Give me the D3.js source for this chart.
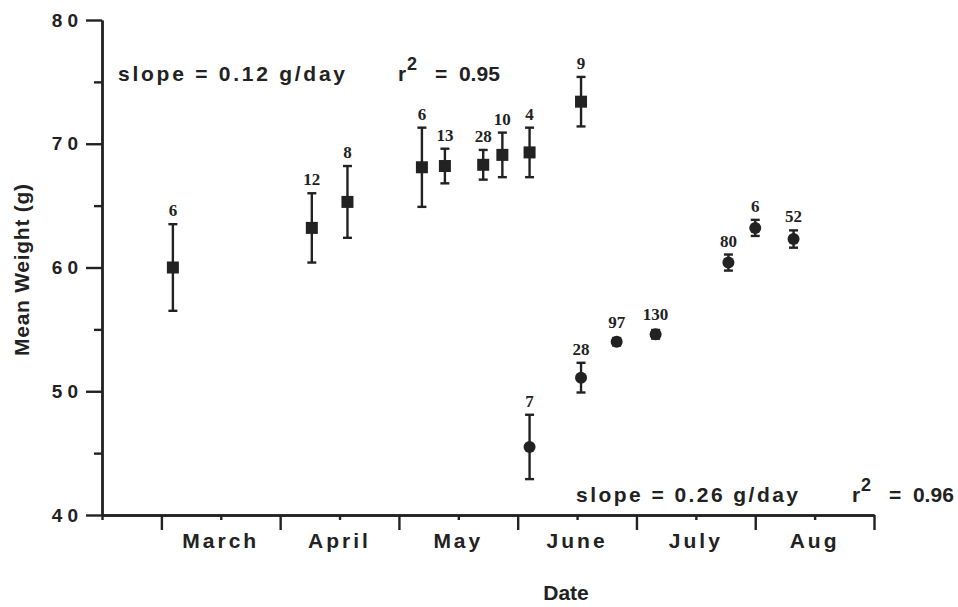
<!DOCTYPE html>
<html>
<head>
<meta charset="utf-8">
<script src="https://cdn.jsdelivr.net/npm/d3@7"></script>
<style>
  body { margin: 0; background: #fff; }
  svg text { font-family: 'Liberation Sans', Arial, sans-serif; fill: #222; }
</style>
</head>
<body>
<div id="graph_div"></div>
<script>
// axis labels
const monthNames = ['March', 'April', 'May', 'June', 'July', 'Aug'];
const yTicks = [40, 50, 60, 70, 80];
const yMinorTicks = [45, 55, 65, 75];

// early season (squares)
const squareDates = ['Mar 4', 'Apr 9', 'Apr 18', 'May 7', 'May 13', 'May 23', 'May 28', 'Jun 4', 'Jun 17'];
const squareMeans = [60.0, 63.2, 65.3, 68.1, 68.2, 68.3, 69.1, 69.3, 73.4];
const squareErr   = [3.5, 2.8, 2.9, 3.2, 1.4, 1.2, 1.8, 2.0, 2.0];
const squareN     = [6, 12, 8, 6, 13, 28, 10, 4, 9];

// late season (circles)
const circleDates = ['Jun 4', 'Jun 17', 'Jun 26', 'Jul 6', 'Jul 25', 'Aug 1', 'Aug 11'];
const circleMeans = [45.5, 51.1, 54.0, 54.6, 60.4, 63.2, 62.3];
const circleErr   = [2.6, 1.2, 0.3, 0.35, 0.65, 0.65, 0.7];
const circleN     = [7, 28, 97, 130, 80, 6, 52];

const monthIndex = {Mar: 0, Apr: 1, May: 2, Jun: 3, Jul: 4, Aug: 5};
const monthDays  = {Mar: 31, Apr: 30, May: 31, Jun: 30, Jul: 31, Aug: 31};

// months since Mar 1
function datePos(s) {
  var parts = s.split(' ');
  return monthIndex[parts[0]] + (+parts[1] - 1) / monthDays[parts[0]];
}

function makeSeries(dates, means, errs, ns) {
  return dates.map(function (d, i) {
    return {x: datePos(d), y: means[i], e: errs[i], n: ns[i]};
  });
}

function drawPoints(svg, data, xScale, yScale, shape) {
  const half = 6, cap = 4.5;
  var g = svg.append('g').attr('class', shape);

  var pts = g.selectAll('g')
      .data(data)
      .enter()
      .append('g');

  pts.append('line')
    .attr('x1', d => xScale(d.x)).attr('x2', d => xScale(d.x))
    .attr('y1', d => yScale(d.y + d.e)).attr('y2', d => yScale(d.y - d.e))
    .attr('stroke', '#222').attr('stroke-width', 2.4);

  [1, -1].forEach(function (s) {
    pts.append('line')
      .attr('x1', d => xScale(d.x) - cap).attr('x2', d => xScale(d.x) + cap)
      .attr('y1', d => yScale(d.y + s * d.e)).attr('y2', d => yScale(d.y + s * d.e))
      .attr('stroke', '#222').attr('stroke-width', 2.4);
  });

  if (shape == 'square') {
    pts.append('rect')
      .attr('x', d => xScale(d.x) - half).attr('y', d => yScale(d.y) - half)
      .attr('width', 2 * half).attr('height', 2 * half)
      .attr('fill', '#222');
  } else {
    pts.append('circle')
      .attr('cx', d => xScale(d.x)).attr('cy', d => yScale(d.y))
      .attr('r', half)
      .attr('fill', '#222');
  }

  pts.append('text')
    .attr('x', d => xScale(d.x))
    .attr('y', d => Math.min(yScale(d.y + d.e), yScale(d.y) - half) - 8)
    .attr('text-anchor', 'middle')
    .style('font-family', "'Liberation Serif', 'Times New Roman', serif")
    .style('font-weight', 'bold')
    .style('font-size', '17px')
    .text(d => d.n);
}

function annotate(svg, x, y, slope, r2, rx, w1) {
  var g = svg.append('g')
      .style('font-weight', 'bold')
      .style('font-size', '21px');
  g.append('text').attr('x', x).attr('y', y)
    .attr('textLength', w1).attr('lengthAdjust', 'spacing')
    .text('slope = ' + slope + ' g/day');
  g.append('text').attr('x', rx).attr('y', y).text('r');
  g.append('text').attr('x', rx + 9).attr('y', y - 11)
    .style('font-size', '18px').text('2');
  g.append('text').attr('x', rx + 37).attr('y', y)
    .attr('xml:space', 'preserve')
    .text('=  ' + r2);
}

function makeGraph() {
  const width = 958, height = 607;
  var svg = d3.select('#graph_div').append('svg')
      .attr('width', width)
      .attr('height', height);

  var xScale = d3.scaleLinear()
      .domain([-0.5, 6])
      .range([102, 874]);

  var yScale = d3.scaleLinear()
      .domain([40, 80])
      .range([515, 20]);

  // x axis: months, minor ticks at mid-month
  svg.append('g')
    .attr('class', 'x axis')
    .attr('transform', `translate(0, ${yScale(40)})`)
    .call(d3.axisBottom(xScale).tickValues(d3.range(0, 7)).tickSize(15).tickSizeOuter(0).tickFormat(''));
  svg.append('g')
    .attr('class', 'x axis')
    .attr('transform', `translate(0, ${yScale(40)})`)
    .call(d3.axisBottom(xScale).tickValues(d3.range(-0.5, 6, 1)).tickSize(5).tickSizeOuter(0).tickFormat(''));

  svg.append('g')
    .selectAll('text')
    .data(monthNames)
    .enter()
    .append('text')
    .attr('x', (d, i) => xScale(i + 0.5))
    .attr('y', 548)
    .attr('text-anchor', 'middle')
    .style('font-weight', 'bold')
    .style('font-size', '21px')
    .style('letter-spacing', '3px')
    .text(d => d);

  // y axis
  svg.append('g')
    .attr('class', 'y axis')
    .attr('transform', `translate(${xScale(-0.5)}, 0)`)
    .call(d3.axisLeft(yScale).tickValues(yTicks).tickSize(16).tickPadding(3).tickSizeOuter(0).tickFormat(d3.format('d')));
  svg.append('g')
    .attr('class', 'y axis')
    .attr('transform', `translate(${xScale(-0.5)}, 0)`)
    .call(d3.axisLeft(yScale).tickValues(yMinorTicks).tickSize(8).tickSizeOuter(0).tickFormat(''));

  svg.selectAll('.axis path, .axis line')
    .attr('stroke', '#222')
    .attr('stroke-width', 2.4);
  svg.selectAll('.y.axis text')
    .attr('fill', '#222')
    .style('font-family', "'Liberation Sans', Arial, sans-serif")
    .style('font-weight', 'bold')
    .style('font-size', '19px')
    .style('letter-spacing', '5px');

  // axis titles
  svg.append('text')
    .attr('transform', 'translate(29, 270) rotate(-90)')
    .attr('text-anchor', 'middle')
    .attr('textLength', 172).attr('lengthAdjust', 'spacing')
    .style('font-weight', 'bold')
    .style('font-size', '21px')
    .text('Mean Weight (g)');

  svg.append('text')
    .attr('x', 566)
    .attr('y', 600)
    .attr('text-anchor', 'middle')
    .style('font-weight', 'bold')
    .style('font-size', '21px')
    .text('Date');

  annotate(svg, 118, 81, '0.12', '0.95', 398, 227);
  annotate(svg, 576, 502, '0.26', '0.96', 852, 222);

  drawPoints(svg, makeSeries(squareDates, squareMeans, squareErr, squareN), xScale, yScale, 'square');
  drawPoints(svg, makeSeries(circleDates, circleMeans, circleErr, circleN), xScale, yScale, 'circle');
}

makeGraph();
</script>
</body>
</html>
